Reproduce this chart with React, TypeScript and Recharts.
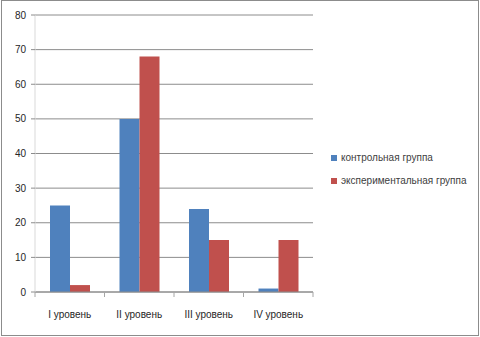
import { BarChart, Bar, XAxis, YAxis, CartesianGrid, Legend } from 'recharts';

const LEVELS = ['I уровень', 'II уровень', 'III уровень', 'IV уровень'];
const CONTROL = [25, 50, 24, 1];
const EXPERIMENTAL = [2, 68, 15, 15];
const Y_TICKS = [0, 10, 20, 30, 40, 50, 60, 70, 80];

const data = LEVELS.map((level, i) => ({
  level,
  control: CONTROL[i],
  experimental: EXPERIMENTAL[i],
}));

const FONT = '"Liberation Sans", Arial, sans-serif';

// category ticks in Excel sit on the band edges, not the centres
function LevelTick(props: any) {
  const { x, y, payload, index } = props;
  const half = payload && payload.offset ? payload.offset : 34.75;
  return (
    <g>
      <line x1={x - half} y1={y - 8} x2={x - half} y2={y - 3} stroke="#a6a6a6" />
      {index === LEVELS.length - 1 && (
        <line x1={x + half} y1={y - 8} x2={x + half} y2={y - 3} stroke="#a6a6a6" />
      )}
      <text x={x} y={y + 18} textAnchor="middle" fill="#262626" fontSize={10} fontFamily={FONT}>
        {payload.value}
      </text>
    </g>
  );
}

function LegendBox(props: any) {
  const items = props.payload || [];
  return (
    <div style={{ fontFamily: FONT, fontSize: 10, color: '#404040' }}>
      {items.map((it: any) => (
        <div key={it.value} style={{ height: 23, display: 'flex', alignItems: 'center' }}>
          <span style={{ display: 'inline-block', width: 6, height: 6, background: it.color, marginRight: 4 }} />
          {it.value}
        </div>
      ))}
    </div>
  );
}

export default function App() {
  return (
    <div style={{ position: 'absolute', left: 0, top: 0, width: 480, height: 337, background: '#fff' }}>
      <BarChart
        width={480}
        height={337}
        data={data}
        margin={{ top: 15, right: 167, bottom: 15, left: 0 }}
        barSize={20}
        barGap={0}
      >
        <CartesianGrid vertical={false} stroke="#8c8c8c" />
        <XAxis
          dataKey="level"
          height={30}
          stroke="#8c8c8c"
          tickLine={false}
          tick={<LevelTick />}
          interval={0}
        />
        <YAxis
          width={35}
          domain={[0, 80]}
          ticks={Y_TICKS}
          interval={0}
          stroke="#d9d9d9"
          tickLine={{ stroke: '#8c8c8c' }}
          tickSize={4}
          tickMargin={5}
          tick={{ fill: '#262626', fontSize: 10, fontFamily: FONT }}
        />
        <Legend
          layout="vertical"
          align="center"
          verticalAlign="middle"
          content={<LegendBox />}
          wrapperStyle={{ position: 'absolute', left: 331, top: 146, width: 148, height: 46 }}
        />
        <Bar dataKey="control" name="контрольная группа" fill="#4f81bd" isAnimationActive={false} />
        <Bar dataKey="experimental" name="экспериментальная группа" fill="#c0504d" isAnimationActive={false} />
      </BarChart>
      <div
        style={{
          position: 'absolute',
          left: 1,
          top: 0,
          width: 476,
          height: 334,
          border: '1px solid #8c8c8c',
          pointerEvents: 'none',
        }}
      />
    </div>
  );
}
